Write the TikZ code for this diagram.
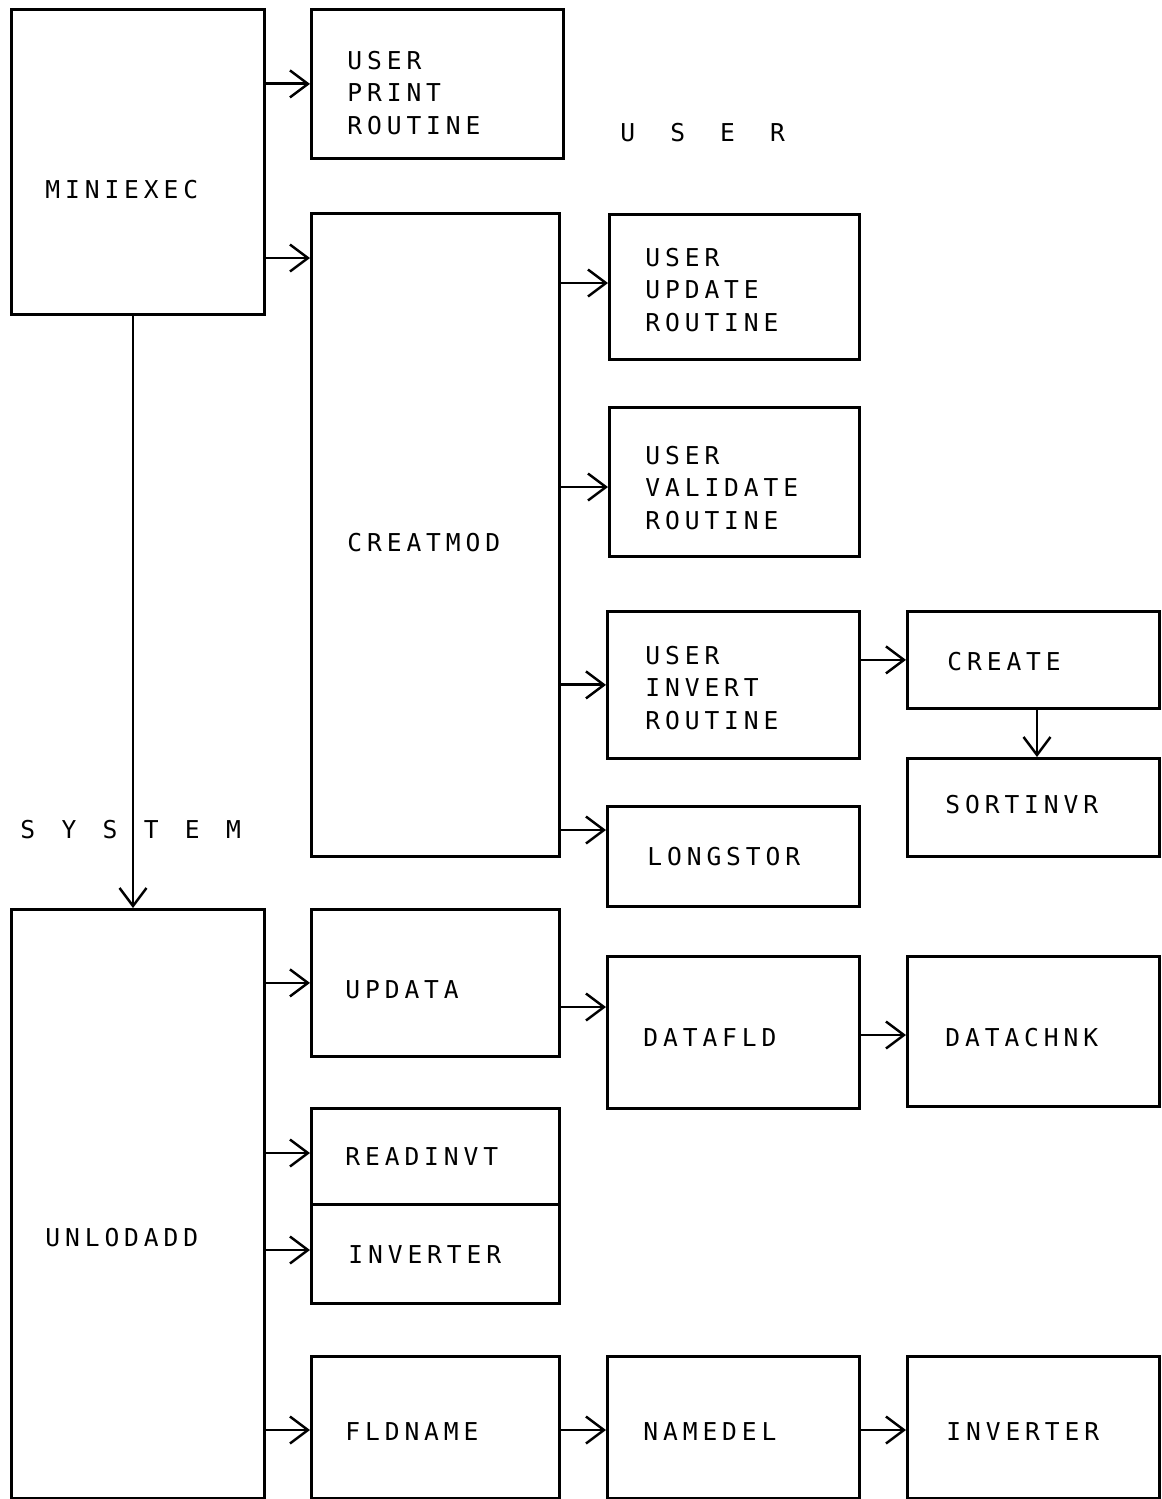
\documentclass[tikz,border=0pt]{standalone}
\usepackage{fontspec}
\setmonofont{DejaVu Sans Mono}[LetterSpace=20]
\usepackage{tikz}
\usetikzlibrary{arrows.meta}

\begin{document}
\begin{tikzpicture}[x=0.02cm,y=-0.02cm,
  box/.style={draw,line width=1.6pt,inner sep=0pt,anchor=north west},
  lbl/.style={anchor=west,inner sep=0pt,align=left,font=\ttfamily\fontsize{14}{18.4}\selectfont},
  a/.style={-{Straight Barb[length=3.6mm,width=5.4mm,line width=1.4pt]},line width=1.6pt}]
\useasboundingbox (0,0) rectangle (1162,1499);
% left column
\node[box,minimum width=5.06cm,minimum height=6.10cm] (mini) at (10,8) {};
\node[box,minimum width=5.06cm,minimum height=11.78cm] (unlod) at (10,908) {};
% second column
\node[box,minimum width=5.04cm,minimum height=2.98cm] (uprint) at (310,8) {};
\node[box,minimum width=4.96cm,minimum height=12.86cm] (creat) at (310,212) {};
\node[box,minimum width=4.96cm,minimum height=2.94cm] (updata) at (310,908) {};
\node[box,minimum width=4.96cm,minimum height=1.92cm] (readinvt) at (310,1107) {};
\node[box,minimum width=4.96cm,minimum height=1.98cm] (invA) at (310,1203) {};
\node[box,minimum width=4.96cm,minimum height=2.84cm] (fldname) at (310,1355) {};
% third column
\node[box,minimum width=5.00cm,minimum height=2.90cm] (uupd) at (608,213) {};
\node[box,minimum width=5.00cm,minimum height=2.98cm] (uval) at (608,406) {};
\node[box,minimum width=5.04cm,minimum height=2.94cm] (uinv) at (606,610) {};
\node[box,minimum width=5.04cm,minimum height=2.00cm] (longstor) at (606,805) {};
\node[box,minimum width=5.04cm,minimum height=3.04cm] (datafld) at (606,955) {};
\node[box,minimum width=5.04cm,minimum height=2.84cm] (namedel) at (606,1355) {};
% fourth column
\node[box,minimum width=5.04cm,minimum height=1.94cm] (create) at (906,610) {};
\node[box,minimum width=5.04cm,minimum height=1.96cm] (sortinvr) at (906,757) {};
\node[box,minimum width=5.04cm,minimum height=3.00cm] (datachnk) at (906,955) {};
\node[box,minimum width=5.04cm,minimum height=2.84cm] (invB) at (906,1355) {};
% texts
\node[lbl] (mini-t) at (45,190) {MINIEXEC};
\node[lbl] (unlod-t) at (45,1238) {UNLODADD};
\node[lbl] (uprint-t) at (347,93) {USER\\PRINT\\ROUTINE};
\node[lbl] (user-t) at (620,133) {U\hspace{20pt}S\hspace{20pt}E\hspace{20pt}R};
\node[lbl] (sys-t) at (20,830) {S\hspace{15pt}Y\hspace{15pt}S\hspace{15pt}T\hspace{15pt}E\hspace{15pt}M};
\node[lbl] (creat-t) at (347,543) {CREATMOD};
\node[lbl] (updata-t) at (345,990) {UPDATA};
\node[lbl] (readinvt-t) at (345,1157) {READINVT};
\node[lbl] (invA-t) at (348,1255) {INVERTER};
\node[lbl] (fldname-t) at (345,1432) {FLDNAME};
\node[lbl] (uupd-t) at (645,290) {USER\\UPDATE\\ROUTINE};
\node[lbl] (uval-t) at (645,488) {USER\\VALIDATE\\ROUTINE};
\node[lbl] (uinv-t) at (645,688) {USER\\INVERT\\ROUTINE};
\node[lbl] (longstor-t) at (647,857) {LONGSTOR};
\node[lbl] (datafld-t) at (643,1038) {DATAFLD};
\node[lbl] (namedel-t) at (643,1432) {NAMEDEL};
\node[lbl] (create-t) at (947,662) {CREATE};
\node[lbl] (sortinvr-t) at (945,805) {SORTINVR};
\node[lbl] (datachnk-t) at (945,1038) {DATACHNK};
\node[lbl] (invB-t) at (946,1432) {INVERTER};
% connectors
\draw[a] (mini.east |- uprint.west) -- (uprint.west);
\draw[a] (mini.east |- 0,258) -- (creat.west |- 0,258);
\draw[a] (mini.south -| 133,0) -- (unlod.north -| 133,0);
\draw[a] (creat.east |- 0,283) -- (uupd.west |- 0,283);
\draw[a] (creat.east |- 0,487) -- (uval.west |- 0,487);
\draw[a] (creat.east |- uinv.west) -- (uinv.west);
\draw[a] (creat.east |- 0,830) -- (longstor.west |- 0,830);
\draw[a] (uinv.east |- create.west) -- (create.west);
\draw[a] (create.south -| 1037,0) -- (sortinvr.north -| 1037,0);
\draw[a] (unlod.east |- updata.west) -- (updata.west);
\draw[a] (updata.east |- 0,1007) -- (datafld.west |- 0,1007);
\draw[a] (datafld.east |- 0,1035) -- (datachnk.west |- 0,1035);
\draw[a] (unlod.east |- 0,1153) -- (readinvt.west |- 0,1153);
\draw[a] (unlod.east |- 0,1250) -- (invA.west |- 0,1250);
\draw[a] (unlod.east |- 0,1430) -- (fldname.west |- 0,1430);
\draw[a] (fldname.east |- 0,1430) -- (namedel.west |- 0,1430);
\draw[a] (namedel.east |- 0,1430) -- (invB.west |- 0,1430);
\end{tikzpicture}
\end{document}
